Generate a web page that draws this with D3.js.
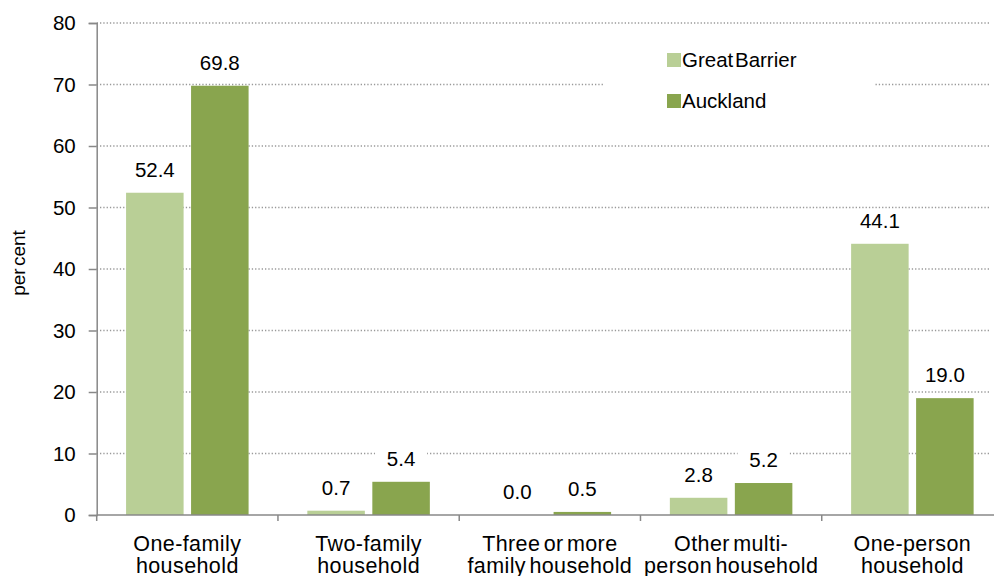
<!DOCTYPE html>
<html>
<head>
<meta charset="utf-8">
<script src="https://cdn.jsdelivr.net/npm/d3@7"></script>
<style>
  html, body { margin: 0; padding: 0; background: #fff; overflow: hidden; }
  svg { display: block; font-family: "Liberation Sans", Arial, sans-serif; }
</style>
</head>
<body>
<svg id="chart" width="994" height="576"></svg>
<script>
// Household composition, Great Barrier vs Auckland (percent)
const categories = [
  ["One-family", "household"],
  ["Two-family", "household"],
  ["Three or more", "family household"],
  ["Other multi-", "person household"],
  ["One-person", "household"]
];
const seriesNames = ["Great Barrier", "Auckland"];
const greatBarrier = [52.4, 0.7, 0.0, 2.8, 44.1];
const auckland = [69.8, 5.4, 0.5, 5.2, 19.0];
const yTicks = [0, 10, 20, 30, 40, 50, 60, 70, 80];
const colors = ["#b9cf96", "#89a54e"];

const svg = d3.select("#chart");
// the plot area runs slightly past the right edge of the canvas
const plotLeft = 96.7, plotRight = 1003, plotTop = 23, plotBottom = 515;
const fs = 20.5;

const x = d3.scaleBand().domain(d3.range(categories.length)).range([plotLeft, plotRight]);
const xInner = d3.scaleBand().domain([0, 1]).range([0, x.bandwidth()])
  .paddingOuter(0.452).paddingInner(0.115);
const y = d3.scaleLinear().domain([0, 80]).range([plotBottom, plotTop]);

// dotted grid
svg.append("g").selectAll("line").data(yTicks.filter(d => d > 0)).join("line")
  .attr("x1", plotLeft).attr("x2", 990)
  .attr("y1", d => y(d)).attr("y2", d => y(d))
  .attr("stroke", "#999").attr("stroke-width", 1.3)
  .attr("stroke-dasharray", "1.3,2");

// legend box (white background over the grid)
const legend = svg.append("g");
legend.append("rect").attr("x", 603).attr("y", 38).attr("width", 272).attr("height", 85)
  .attr("fill", "#fff");
seriesNames.forEach((name, i) => {
  const ly = 67 + i * 41;
  legend.append("rect").attr("x", 667).attr("y", ly - 14).attr("width", 14).attr("height", 14)
    .attr("fill", colors[i]);
  legend.append("text").attr("x", 682).attr("y", ly)
    .attr("font-size", fs).attr("fill", "#000")
    .style("word-spacing", "-4px")
    .text(name);
});

// bars
const series = [greatBarrier, auckland];
const groups = svg.append("g");
series.forEach((vals, s) => {
  groups.append("g").selectAll("rect").data(vals).join("rect")
    .attr("x", (d, i) => x(i) + xInner(s))
    .attr("width", xInner.bandwidth())
    .attr("y", d => y(d))
    .attr("height", d => y(0) - y(d))
    .attr("fill", colors[s]);
});

// value labels with white backing
const labels = svg.append("g").attr("font-size", fs).attr("text-anchor", "middle");
series.forEach((vals, s) => {
  vals.forEach((v, i) => {
    const cx = x(i) + xInner(s) + xInner.bandwidth() / 2;
    const by = y(v) - 16;
    labels.append("rect").attr("x", cx - 26).attr("y", by - 19).attr("width", 52).attr("height", 24)
      .attr("fill", "#fff");
    labels.append("text").attr("x", cx).attr("y", by).attr("fill", "#000")
      .text(v.toFixed(1));
  });
});

// y axis
const yAxis = svg.append("g").attr("transform", `translate(${plotLeft},0)`)
  .call(d3.axisLeft(y).tickValues(yTicks).tickSize(8).tickPadding(13));
yAxis.select(".domain").attr("stroke", "#888").attr("stroke-width", 1.5);
yAxis.selectAll(".tick line").attr("stroke", "#888").attr("stroke-width", 1.5);
yAxis.selectAll(".tick text").attr("font-size", fs).attr("fill", "#000")
  .attr("font-family", "Liberation Sans, Arial, sans-serif");

// x axis with boundary ticks
const xa = svg.append("g");
xa.append("line").attr("x1", plotLeft).attr("x2", plotRight).attr("y1", plotBottom).attr("y2", plotBottom)
  .attr("stroke", "#888").attr("stroke-width", 1.5);
const bounds = d3.range(categories.length + 1).map(i => i < categories.length ? x(i) : plotRight);
xa.selectAll("line.tk").data(bounds).join("line").attr("class", "tk")
  .attr("x1", d => d).attr("x2", d => d).attr("y1", plotBottom).attr("y2", plotBottom + 6)
  .attr("stroke", "#888").attr("stroke-width", 1.5);
categories.forEach((lines, i) => {
  const cx = x(i) + x.bandwidth() / 2;
  const t = xa.append("text").attr("x", cx).attr("y", 551)
    .attr("text-anchor", "middle").attr("font-size", 21.5).attr("fill", "#000")
    .style("letter-spacing", "0.4px").style("word-spacing", "-3px");
  lines.forEach((ln, k) => {
    t.append("tspan").attr("x", cx).attr("dy", k === 0 ? 0 : 22).text(ln);
  });
});

// y title
svg.append("text").attr("transform", "translate(25,263) rotate(-90)")
  .attr("text-anchor", "middle").attr("font-size", 19).attr("fill", "#000")
  .style("word-spacing", "-3px")
  .text("per cent");
</script>
</body>
</html>
